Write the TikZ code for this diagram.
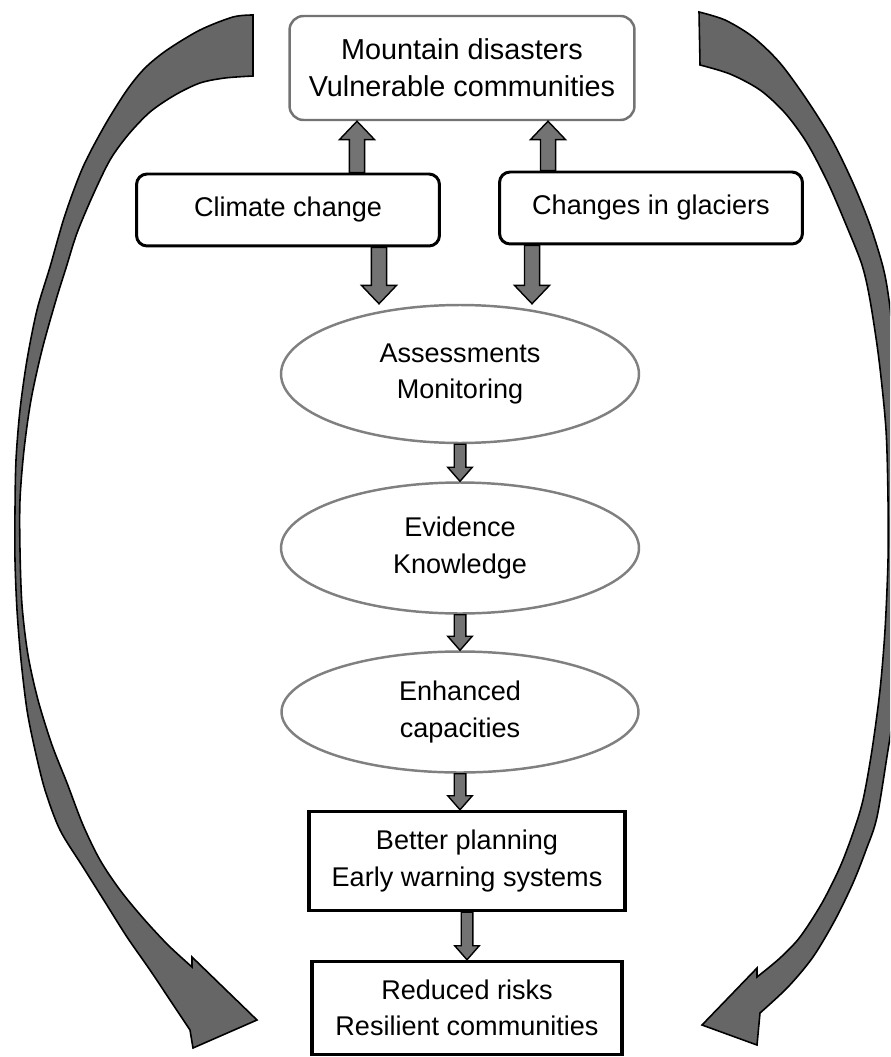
\documentclass[tikz,border=0pt]{standalone}
\usepackage{fontspec}
\setmainfont{Liberation Sans}
\usepackage{tikz}
\usetikzlibrary{calc}
\usetikzlibrary{shapes}

% straight block arrow: start, tip, half shaft, half head, head length
\newcommand{\fatarrow}[5]{%
\coordinate (fa-s) at (#1);
\coordinate (fa-t) at (#2);
\coordinate (fa-b) at ($(fa-t)!#5!(fa-s)$);
\filldraw[blockarrow] ($(fa-s)!#3!90:(fa-t)$) -- ($(fa-b)!#3!-90:(fa-s)$) -- ($(fa-b)!#4!-90:(fa-s)$) -- (fa-t) -- ($(fa-b)!#4!90:(fa-s)$) -- ($(fa-b)!#3!90:(fa-s)$) -- ($(fa-s)!#3!-90:(fa-t)$) -- cycle;
}
\newcommand{\causearrow}[2]{\fatarrow{#1}{#2}{4.3pt}{10pt}{10.5pt}}
\newcommand{\steparrow}[2]{\fatarrow{#1}{#2}{3.3pt}{7pt}{8pt}}

\begin{document}
\begin{tikzpicture}[x=.02cm, y=-.02cm,
every node/.style={font=\fontsize{15.4pt}{20.5pt}\selectfont, align=center, inner sep=0pt},
topbox/.style={draw=black!55, line width=1.4pt, rounded corners=8pt, fill=white, minimum width=6.9cm, minimum height=2.08cm, font=\fontsize{16.4pt}{21pt}\selectfont},
causebox/.style={draw=black, line width=1.7pt, rounded corners=6pt, fill=white, minimum width=6.06cm, minimum height=1.44cm},
stage/.style={ellipse, draw=black!50, line width=1.4pt, fill=white, minimum width=7.16cm, minimum height=2.76cm},
outcome/.style={rectangle, draw=black, line width=2pt, fill=white, minimum width=6.32cm, minimum height=1.98cm},
blockarrow/.style={fill=black!55, draw=black, line width=.8pt},
loop/.style={fill=black!60, draw=black, line width=.9pt}]


%%%%%% SETTINGS %%%%%%%%%%

\pgfmathtruncatemacro{\picwidth}{890}
\pgfmathtruncatemacro{\picheight}{1057}

\useasboundingbox (0,0) rectangle (\picwidth,\picheight);

%%%%%% LOOP ARROWS %%%%%%%%%%

\begin{scope}
\clip (0,0) rectangle (\picwidth,\picheight);
\filldraw[loop] plot[smooth] coordinates {(253,15) (233,17) (200,30) (167,50) (145,68) (127,90) (105,125) (83,167) (65,215) (50,267) (37,310) (27,360) (20,410) (16,460) (15,510) (15,560) (17,610) (21,660) (27,710) (35,750) (45,790) (60,830) (83,867) (105,902) (127,937) (150,970) (172,1003) (190,1030)}
  -- (193,1048) -- (257,1020) -- (192,957) --
  plot[smooth] coordinates {(192,967) (168,945) (143,918) (120,890) (100,860) (83,825) (67,783) (52,745) (38,700) (28,655) (22,605) (20,550) (20,500) (24,450) (31,400) (42,350) (56,300) (66,268) (77,233) (93,195) (110,160) (128,135) (150,112) (175,95) (200,83) (225,78) (253,76)} -- cycle;
\filldraw[loop] plot[smooth] coordinates {(699,12) (725,20) (753,37) (780,63) (807,100) (832,140) (853,183) (870,225) (883,267) (889,300) (896,360) (904,430) (909,530) (905,640) (896,700) (888,750) (877,817) (866,850) (853,883) (835,920) (813,957) (788,987) (760,1013)}
  -- (757,1045) -- (702,1025) -- (757,968) --
  plot[smooth] coordinates {(757,977) (780,958) (800,937) (822,903) (840,867) (853,833) (863,800) (872,750) (880,690) (885,630) (888,560) (888,500) (886,430) (879,360) (870,300) (862,265) (847,227) (828,183) (807,143) (785,113) (760,90) (730,74) (700,65)} -- cycle;
\end{scope}

%%%%%% BOXES %%%%%%%%%%

\node[topbox] (mountain) at (462,68) {Mountain disasters\\Vulnerable communities};
\node[causebox] (climate) at (288,210) {Climate change};
\node[causebox] (glaciers) at (651,208) {Changes in glaciers};

\node[stage] (assess) at (460,374) {Assessments\\Monitoring};
\node[stage, minimum height=2.62cm] (evidence) at (460,548) {Evidence\\Knowledge};
\node[stage, minimum width=7.14cm, minimum height=2.42cm] (enhanced) at (460,712) {Enhanced\\capacities};

\node[outcome] (planning) at (467,861) {Better planning\\Early warning systems};
\node[outcome, minimum width=6.2cm, minimum height=1.86cm] (reduced) at (467,1008) {Reduced risks\\Resilient communities};

%%%%%% ARROWS %%%%%%%%%%

\coordinate (cu) at ($(climate.north)+(69,0)$);
\coordinate (gu) at ($(glaciers.north)+(-103,0)$);
\coordinate (cd) at ($(climate.south)+(91,0)$);
\coordinate (gd) at ($(glaciers.south)+(-119,0)$);

\causearrow{cu}{cu |- mountain.south}
\causearrow{gu}{gu |- mountain.south}
\causearrow{cd}{cd |- assess.north}
\causearrow{gd}{gd |- assess.north}

\steparrow{assess.south}{evidence.north}
\steparrow{evidence.south}{enhanced.north}
\steparrow{enhanced.south}{enhanced.south |- planning.north}
\steparrow{planning.south}{reduced.north}

\end{tikzpicture}
\end{document}
